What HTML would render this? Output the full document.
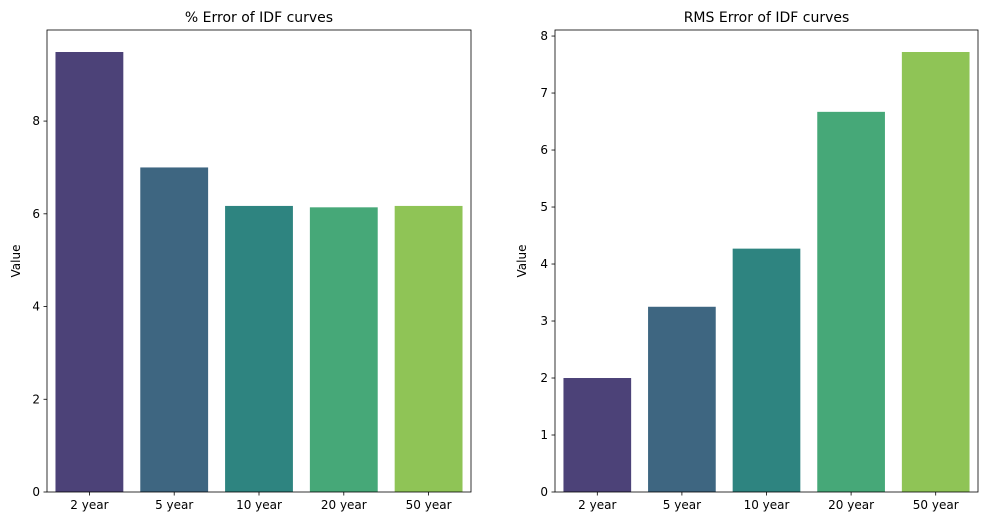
<!DOCTYPE html>
<html><head><meta charset="utf-8"><style>
body{margin:0;background:#fff;font-family:"Liberation Sans","DejaVu Sans",sans-serif}
svg text{font-family:"DejaVu Sans","Liberation Sans",sans-serif}
</style></head><body>
<svg id="c" width="988" height="526" xmlns="http://www.w3.org/2000/svg"></svg>
<script>
const categories=["2 year","5 year","10 year","20 year","50 year"];
const pctValues=[9.49,7.0,6.17,6.14,6.17];
const rmsValues=[2.0,3.25,4.27,6.67,7.72];
const pctTicks=[0,2,4,6,8];
const rmsTicks=[0,1,2,3,4,5,6,7,8];
const colors=["#4c4278","#3e6681","#2e8480","#46a878","#8fc456"];
const svg=document.getElementById('c');
const NS='http://www.w3.org/2000/svg';
function mk(tag,attrs,parent){const e=document.createElementNS(NS,tag);for(const k in attrs)e.setAttribute(k,attrs[k]);(parent||svg).appendChild(e);return e;}
function panel(x0,x1,y0,y1,vals,ticks,title,prefix){
  const g=mk('g',{});
  
  
  const ymax=Math.max(...vals)*1.05;
  const y=v=>y1-(v/ymax)*(y1-y0);
  const band=(x1-x0)/categories.length;
  const x=i=>x0+band*i+band*0.1;
  vals.forEach((v,i)=>{
    const r=mk('rect',{x:x(i),y:y(v),width:band*0.8,height:y1-y(v),fill:colors[i]},g);
    
    
    mk('line',{x1:x0+band*(i+0.5),x2:x0+band*(i+0.5),y1:y1,y2:y1+3.5,stroke:'#000','stroke-width':0.8},g);
    const t=mk('text',{x:x0+band*(i+0.5),y:y1+17,'font-size':12,'text-anchor':'middle'},g);
    t.textContent=categories[i];
    
    
  });
  ticks.forEach(tv=>{
    mk('line',{x1:x0-3.5,x2:x0,y1:y(tv),y2:y(tv),stroke:'#000','stroke-width':0.8},g);
    const t=mk('text',{x:x0-7,y:y(tv)+4,'font-size':12,'text-anchor':'end'},g);
    t.textContent=tv;
    
    
  });
  const fr=mk('rect',{x:x0,y:y0,width:x1-x0,height:y1-y0,fill:'none',stroke:'#000','stroke-width':0.8},g);
  
  
  const tt=mk('text',{x:(x0+x1)/2,y:y0-8,'font-size':14,'text-anchor':'middle'},g);
  tt.textContent=title;
  
  
  const yl=mk('text',{x:0,y:0,'font-size':12,'text-anchor':'middle',transform:`translate(${x0-(prefix==='pct'?27:29)},${(y0+y1)/2}) rotate(-90)`},g);
  yl.textContent='Value';
  
  
}
panel(47,471,30,492,pctValues,pctTicks,'% Error of IDF curves','pct');
panel(555,978,30,492,rmsValues,rmsTicks,'RMS Error of IDF curves','rms');
</script>
</body></html>
